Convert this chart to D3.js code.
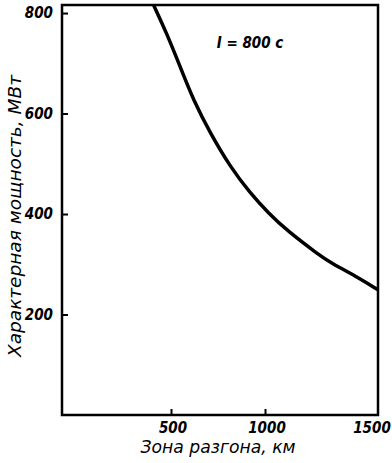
<!DOCTYPE html>
<html><head><meta charset="utf-8">
<script src="https://cdn.jsdelivr.net/npm/d3@7"></script>
<style>
body{margin:0;background:#fff;}
svg{display:block;}
text{font-family:"Liberation Sans Narrow","DejaVu Sans Condensed","Arial Narrow",sans-serif;font-style:italic;fill:#000;}
</style></head>
<body>
<script>
// Data
const distanceKm = [420, 480, 550, 620, 710, 815, 920, 1015, 1100, 1235, 1290, 1420, 1500];
const powerMW    = [816, 760, 692, 626, 560, 494, 442, 402, 366, 320, 303, 272, 249];
const xTicks = [500, 1000, 1500];
const yTicks = [200, 400, 600, 800];
const xBreaks = [0, 500, 1000, 1500];
const yDomain = [0, 816];
const xTitle = "Зона разгона, км";
const yTitle = "Характерная мощность, МВт";
const note = "I = 800 с";

const W = 392, H = 463;
const L = 62, R = 378, T = 5, B = 415;

const svg = d3.select("body").append("svg").attr("width", W).attr("height", H);

const x = d3.scaleLinear().domain(xBreaks).range([L, 171, 265, R]);
const y = d3.scaleLinear().domain(yDomain).range([B, T]);

svg.append("clipPath").attr("id", "c").append("rect")
  .attr("x", L).attr("y", T).attr("width", R - L).attr("height", B - T);

// frame
svg.append("rect").attr("x", L).attr("y", T).attr("width", R - L).attr("height", B - T)
  .attr("fill", "none").attr("stroke", "#000").attr("stroke-width", 2.5);

// y axis ticks (inward)
const yAx = d3.axisRight(y).tickValues(yTicks).tickSize(6).tickFormat("");
const gy = svg.append("g").attr("transform", `translate(${L},0)`).call(yAx);
gy.select(".domain").remove();
gy.selectAll("line").attr("stroke-width", 2);
yTicks.forEach(v => {
  svg.append("text").attr("x", 53).attr("y", y(v) + 5)
    .attr("text-anchor", "end").attr("font-size", 15).attr("font-weight", "bold").text(v);
});

// x axis ticks (inward)
const xAx = d3.axisTop(x).tickValues([500, 1000]).tickSize(6).tickFormat("");
const gx = svg.append("g").attr("transform", `translate(0,${B})`).call(xAx);
gx.select(".domain").remove();
gx.selectAll("line").attr("stroke-width", 2);
xTicks.forEach(v => {
  const px = v === 1500 ? x(v) - 6 : x(v) + 2;
  svg.append("text").attr("x", px).attr("y", B + 18)
    .attr("text-anchor", "middle").attr("font-size", 15).attr("font-weight", "bold").text(v);
});

// curve
const line = d3.line().x((d, i) => x(distanceKm[i])).y((d, i) => y(powerMW[i])).curve(d3.curveBasis);
svg.append("path").datum(powerMW).attr("d", line)
  .attr("clip-path", "url(#c)")
  .attr("fill", "none").attr("stroke", "#000").attr("stroke-width", 3.5);

// annotation
svg.append("text").attr("x", 250).attr("y", 48).attr("text-anchor", "middle")
  .attr("font-size", 15).attr("font-weight", "bold").text(note);

// titles
svg.append("text").attr("x", 218).attr("y", 453).attr("text-anchor", "middle")
  .attr("font-size", 18).attr("textLength", 155).attr("lengthAdjust", "spacingAndGlyphs").text(xTitle);
svg.append("text").attr("transform", "translate(21,216) rotate(-90)").attr("text-anchor", "middle")
  .attr("font-size", 18).attr("textLength", 282).attr("lengthAdjust", "spacingAndGlyphs").text(yTitle);
</script>
</body></html>
